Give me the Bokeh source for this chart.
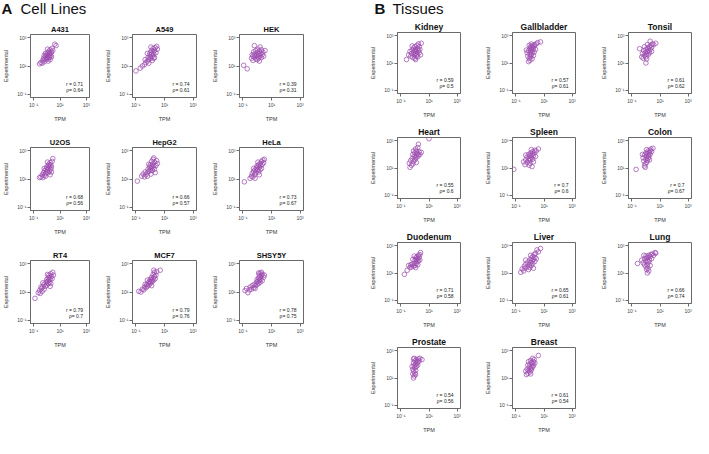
from bokeh.plotting import figure
from bokeh.layouts import row, column, Spacer
from bokeh.models import FixedTicker, CustomJSTickFormatter, Label, Range1d, ColumnDataSource
from bokeh.embed import file_html
from bokeh.resources import INLINE

# ---------------- data (log10 TPM, log10 Experimental) ----------------
x_ticks = [0.1, 10, 1000]
tick_labels = {"-1": "10⁻¹", "1": "10¹", "3": "10³"}

A431 = [(-0.55,1.15),(-0.45,1.25),(-0.35,1.2),(-0.3,1.4),(-0.2,1.3),(-0.25,1.55),(-0.15,1.5),(-0.1,1.7),(-0.05,1.45),(0.0,1.6),(0.0,1.85),(0.05,1.75),(0.1,1.55),(0.1,1.95),(0.15,1.7),(0.15,2.05),(0.2,1.85),(0.2,1.6),(0.25,2.15),(0.3,1.9),(0.3,1.75),(0.35,2.0),(0.4,2.25),(0.1,1.35),(-0.1,1.9),(0.05,2.2),(0.25,1.45),(0.45,2.1),(0.6,2.55),(0.7,2.45),(-0.2,1.75),(0.35,1.65)]
A549 = [(-1.0,0.65),(-0.7,0.85),(-0.55,1.0),(-0.4,1.1),(-0.3,1.25),(-0.35,1.45),(-0.2,1.35),(-0.15,1.6),(-0.1,1.45),(-0.05,1.8),(0.0,1.65),(0.0,1.95),(0.05,1.55),(0.1,1.85),(0.1,2.1),(0.15,1.7),(0.2,2.0),(0.2,2.25),(0.25,1.85),(0.3,2.1),(0.3,1.6),(0.35,2.3),(0.4,1.95),(0.45,2.4),(0.5,2.2),(-0.2,1.9),(0.05,2.35),(0.15,1.4),(-0.1,1.2),(0.25,1.55)]
HEK = [(-0.95,1.05),(-0.7,0.8),(-0.4,1.55),(-0.35,1.8),(-0.3,1.4),(-0.25,2.0),(-0.2,1.65),(-0.15,1.85),(-0.1,1.5),(-0.1,2.1),(-0.05,1.75),(0.0,1.95),(0.0,1.45),(0.05,1.65),(0.05,2.2),(0.1,1.85),(0.1,1.55),(0.15,2.05),(0.2,1.7),(0.2,2.35),(0.25,1.9),(0.3,1.6),(0.3,2.15),(0.35,1.8),(0.4,2.0),(0.45,1.7),(0.55,2.1),(-0.2,2.45),(0.15,1.35),(-0.3,1.7)]
U2OS = [(-0.55,1.1),(-0.45,1.15),(-0.35,1.3),(-0.3,1.1),(-0.25,1.45),(-0.2,1.25),(-0.15,1.6),(-0.1,1.4),(-0.05,1.7),(0.0,1.5),(0.0,1.85),(0.05,1.65),(0.1,1.95),(0.1,1.45),(0.15,1.75),(0.15,2.05),(0.2,1.55),(0.2,1.9),(0.25,2.15),(0.3,1.7),(0.3,2.0),(0.35,1.85),(0.4,2.25),(0.45,2.45),(-0.1,1.2),(0.05,2.2),(0.25,1.3),(-0.2,1.75),(0.35,1.5)]
HepG2 = [(-0.9,0.85),(-0.6,1.2),(-0.5,1.35),(-0.4,1.15),(-0.35,1.5),(-0.3,1.3),(-0.2,1.45),(-0.15,1.7),(-0.1,1.55),(-0.05,1.85),(0.0,1.6),(0.0,2.0),(0.05,1.75),(0.1,1.9),(0.1,2.25),(0.15,1.6),(0.15,2.05),(0.2,1.8),(0.2,2.4),(0.25,1.95),(0.3,1.7),(0.3,2.2),(0.35,1.45),(0.4,1.95),(0.45,2.3),(0.5,2.1),(-0.2,1.2),(0.05,1.35),(0.25,2.5),(-0.1,2.05)]
HeLa = [(-0.9,0.8),(-0.5,1.05),(-0.4,1.2),(-0.35,1.4),(-0.3,1.15),(-0.25,1.55),(-0.2,1.3),(-0.15,1.65),(-0.1,1.45),(-0.05,1.8),(0.0,1.6),(0.0,1.95),(0.05,1.7),(0.1,2.0),(0.1,1.5),(0.15,1.85),(0.2,2.1),(0.2,1.65),(0.25,1.95),(0.3,2.25),(0.3,1.75),(0.35,2.05),(0.4,2.35),(0.45,2.15),(0.5,2.4),(-0.15,1.05),(0.05,2.2),(0.15,1.3),(-0.25,1.75)]
RT4 = [(-0.9,0.55),(-0.65,0.95),(-0.55,1.1),(-0.5,0.9),(-0.4,1.25),(-0.35,1.05),(-0.3,1.4),(-0.2,1.2),(-0.2,1.55),(-0.1,1.4),(-0.05,1.7),(0.0,1.5),(0.0,1.9),(0.05,1.75),(0.1,2.0),(0.1,1.6),(0.15,1.85),(0.15,2.2),(0.2,1.7),(0.2,2.05),(0.25,1.9),(0.3,2.3),(0.3,1.6),(0.35,2.1),(0.4,1.95),(0.45,2.4),(0.5,2.2),(-0.3,1.65),(0.05,2.25),(0.25,1.4),(-0.45,1.35)]
MCF7 = [(-0.8,1.05),(-0.65,1.0),(-0.55,1.2),(-0.45,1.15),(-0.4,1.35),(-0.3,1.3),(-0.25,1.5),(-0.2,1.4),(-0.15,1.65),(-0.1,1.5),(-0.05,1.75),(0.0,1.6),(0.0,1.9),(0.05,1.7),(0.1,1.85),(0.1,2.05),(0.15,1.75),(0.2,2.0),(0.2,2.25),(0.25,1.85),(0.3,2.1),(0.3,2.4),(0.35,1.95),(0.4,2.2),(0.45,2.45),(0.7,2.55),(-0.2,1.85),(0.1,1.45),(0.25,2.55),(-0.35,1.55)]
SHSY5Y = [(-0.85,1.1),(-0.75,1.25),(-0.65,0.95),(-0.55,1.15),(-0.5,1.35),(-0.4,1.2),(-0.35,1.45),(-0.25,1.3),(-0.2,1.55),(-0.1,1.45),(-0.05,1.7),(0.0,1.55),(0.0,1.9),(0.05,1.75),(0.1,2.0),(0.1,1.6),(0.15,1.85),(0.15,2.2),(0.2,1.7),(0.2,2.05),(0.2,2.35),(0.25,1.9),(0.3,2.15),(0.3,2.4),(0.35,1.8),(0.35,2.25),(0.45,2.05),(0.5,2.2),(0.1,2.35),(-0.15,1.25)]

Kidney = [(-0.6,1.25),(-0.45,1.6),(-0.35,1.85),(-0.3,1.5),(-0.25,1.7),(-0.2,1.95),(-0.15,1.4),(-0.1,1.8),(-0.1,2.1),(-0.05,1.6),(0.0,1.9),(0.0,1.35),(0.0,2.2),(0.05,1.7),(0.05,2.0),(0.1,1.5),(0.1,1.85),(0.15,2.3),(0.15,1.65),(0.2,2.05),(0.2,1.45),(0.25,1.9),(0.3,2.2),(0.3,1.75),(0.35,2.0),(0.45,2.45),(0.4,1.6),(-0.2,2.25),(0.05,1.25),(0.25,2.4)]
Gallbladder = [(-0.1,1.1),(0.0,1.2),(-0.05,1.35),(0.05,1.45),(-0.15,1.5),(0.1,1.6),(0.0,1.65),(-0.2,1.75),(0.15,1.75),(0.05,1.85),(-0.1,1.9),(0.2,1.95),(0.1,2.0),(0.0,2.05),(0.25,2.1),(0.15,2.15),(0.05,2.2),(0.3,2.25),(0.2,2.3),(0.35,2.35),(0.1,2.4),(0.45,2.4),(0.3,1.8),(0.25,1.55),(-0.05,2.3),(0.55,2.5),(0.75,2.55),(0.4,2.0),(-0.25,1.95),(0.15,1.3)]
Tonsil = [(0.0,1.0),(-0.3,1.45),(-0.2,1.35),(-0.1,1.55),(-0.25,1.7),(-0.05,1.75),(0.0,1.45),(0.05,1.65),(-0.15,1.9),(0.1,1.85),(0.0,2.0),(0.15,1.6),(0.15,2.1),(0.2,1.9),(0.25,2.2),(0.3,2.0),(0.3,2.6),(0.35,2.3),(0.4,2.15),(0.45,2.4),(0.55,2.35),(0.7,2.45),(-0.45,2.05),(0.1,2.35),(0.25,1.75),(-0.1,2.2),(0.05,1.3),(0.4,1.85)]
Heart = [(-0.35,1.05),(-0.25,1.2),(-0.4,1.35),(-0.15,1.3),(-0.3,1.55),(-0.1,1.5),(-0.2,1.7),(0.0,1.6),(-0.05,1.85),(0.05,1.75),(0.1,1.95),(-0.15,2.0),(0.15,1.8),(0.0,2.1),(0.2,2.05),(0.1,2.25),(0.25,1.9),(0.3,2.2),(0.05,2.4),(0.2,2.5),(0.25,2.75),(0.45,2.15),(0.1,1.4),(-0.1,2.25),(1.0,3.15),(0.35,2.0)]
Spleen = [(-1.15,0.9),(-0.45,1.45),(-0.35,1.25),(-0.3,1.6),(-0.2,1.4),(-0.2,1.8),(-0.1,1.55),(-0.1,2.0),(-0.05,1.7),(0.0,1.35),(0.0,1.9),(0.05,2.1),(0.05,1.6),(0.1,1.8),(0.15,2.0),(0.15,1.1),(0.2,1.65),(0.2,2.2),(0.25,1.9),(0.3,2.1),(0.35,2.3),(0.4,1.85),(0.45,2.25),(0.6,2.4),(-0.05,1.2),(0.1,2.35),(-0.3,1.95),(0.25,1.45)]
Colon = [(-0.7,0.9),(-0.1,1.15),(-0.05,1.3),(0.05,1.4),(-0.15,1.5),(0.1,1.55),(0.0,1.65),(-0.2,1.75),(0.15,1.7),(0.05,1.85),(-0.1,1.95),(0.2,1.95),(0.1,2.05),(0.0,2.1),(0.25,2.15),(0.15,2.25),(0.3,2.3),(0.35,2.4),(0.5,2.45),(0.2,1.8),(-0.25,2.0),(0.25,1.6),(0.4,2.2),(0.05,2.35),(-0.05,1.05),(0.3,2.0)]
Duodenum = [(-0.75,0.9),(-0.55,1.2),(-0.45,1.55),(-0.35,1.4),(-0.3,1.6),(-0.25,1.45),(-0.2,1.65),(-0.1,1.5),(-0.05,1.7),(0.0,1.55),(0.0,1.95),(0.05,2.1),(0.1,1.7),(0.1,2.0),(0.15,1.85),(0.15,2.2),(0.2,1.6),(0.2,2.05),(0.25,1.9),(0.25,2.3),(0.3,2.15),(0.35,1.95),(0.4,2.5),(0.35,2.35),(-0.15,2.0),(0.05,1.4),(-0.05,2.25)]
Liver = [(-0.65,1.05),(-0.55,1.3),(-0.45,1.15),(-0.4,1.5),(-0.35,1.35),(-0.3,1.65),(-0.2,1.45),(-0.15,1.8),(-0.1,1.25),(-0.05,1.6),(0.0,1.95),(0.0,1.4),(0.05,1.75),(0.1,2.1),(0.1,1.55),(0.15,1.9),(0.2,2.2),(0.2,1.7),(0.25,2.0),(0.3,2.35),(0.35,1.85),(0.35,2.15),(0.4,2.45),(0.45,2.05),(0.5,2.7),(0.6,2.55),(0.75,2.8),(-0.3,1.95),(0.05,2.3),(0.25,1.35)]
Lung = [(-0.6,1.7),(-0.3,1.95),(-0.2,1.75),(-0.1,2.05),(-0.1,1.6),(0.0,1.85),(0.0,1.45),(0.05,2.1),(0.05,1.25),(0.1,1.9),(0.1,1.0),(0.1,1.6),(0.15,2.15),(0.15,1.35),(0.2,1.8),(0.2,2.3),(0.25,1.95),(0.3,2.2),(0.3,1.55),(0.35,2.35),(0.4,2.05),(0.45,2.4),(0.55,2.3),(0.65,2.5),(0.7,2.45),(0.0,2.25),(0.2,1.15),(-0.15,2.3)]
Prostate = [(-0.1,1.0),(-0.05,1.15),(-0.15,1.3),(0.0,1.35),(-0.1,1.5),(0.05,1.55),(-0.15,1.65),(0.0,1.75),(-0.05,1.9),(0.1,1.85),(0.05,2.0),(-0.1,2.1),(0.15,2.1),(0.0,2.25),(0.2,2.2),(0.1,2.35),(-0.1,2.4),(0.25,2.4),(0.35,2.45),(0.5,2.35),(0.2,1.95),(0.05,1.25),(-0.2,1.85),(0.3,2.25),(-0.05,2.45)]
Breast = [(-0.25,1.25),(-0.15,1.35),(-0.3,1.5),(-0.1,1.55),(0.0,1.45),(-0.2,1.65),(0.05,1.7),(-0.05,1.8),(0.1,1.6),(0.15,1.85),(-0.15,1.95),(0.0,2.0),(0.2,2.05),(0.1,2.15),(0.25,2.2),(0.05,2.3),(0.3,2.35),(0.2,2.45),(0.15,1.75),(-0.1,2.2),(0.35,2.1),(0.6,2.65),(0.05,1.3),(0.25,1.9)]

cell_names = ["A431", "A549", "HEK", "U2OS", "HepG2", "HeLa", "RT4", "MCF7", "SHSY5Y"]
cell_data = [A431, A549, HEK, U2OS, HepG2, HeLa, RT4, MCF7, SHSY5Y]
cell_r = ["0.71", "0.74", "0.39", "0.68", "0.66", "0.73", "0.79", "0.79", "0.78"]
cell_rho = ["0.64", "0.61", "0.31", "0.56", "0.57", "0.67", "0.7", "0.76", "0.75"]

tissue_names = ["Kidney", "Gallbladder", "Tonsil", "Heart", "Spleen", "Colon",
                "Duodenum", "Liver", "Lung", "Prostate", "Breast"]
tissue_data = [Kidney, Gallbladder, Tonsil, Heart, Spleen, Colon, Duodenum, Liver, Lung, Prostate, Breast]
tissue_r = ["0.59", "0.57", "0.61", "0.55", "0.7", "0.7", "0.71", "0.65", "0.66", "0.54", "0.61"]
tissue_rho = ["0.5", "0.61", "0.62", "0.6", "0.6", "0.67", "0.58", "0.61", "0.74", "0.56", "0.54"]

# ---------------- styling ----------------
FONT = "Liberation Sans"
PURPLE = "#9b4aad"
GRAY = "#6a6a6a"
LO, HI = -1.24, 3.24

fmt = CustomJSTickFormatter(args=dict(m=tick_labels),
                            code="const e = Math.round(Math.log10(tick)); return m[String(e)] || '';")


def make_panel(name, pts, r, rho, left, right, top, bottom, fw, fh, tsize):
    p = figure(width=left + fw + right, height=top + fh + bottom,
               x_axis_type="log", y_axis_type="log",
               x_range=Range1d(10 ** LO, 10 ** HI), y_range=Range1d(10 ** LO, 10 ** HI),
               output_backend="svg", toolbar_location=None, title=name,
               min_border_left=left, min_border_right=right,
               min_border_top=top, min_border_bottom=bottom)
    p.title.align = "center"
    p.title.text_font = FONT
    p.title.text_font_size = tsize
    p.title.text_font_style = "bold"
    p.title.text_color = "#111111"
    p.title.standoff = 1
    p.title.offset = 0
    p.grid.visible = False
    p.outline_line_color = GRAY
    p.outline_line_width = 1
    p.background_fill_color = "white"
    p.border_fill_color = "white"
    for ax in (p.xaxis[0], p.yaxis[0]):
        ax.ticker = FixedTicker(ticks=x_ticks)
        ax.formatter = fmt
        ax.major_tick_out = 3
        ax.major_tick_in = 0
        ax.minor_tick_line_color = None
        ax.axis_line_color = GRAY
        ax.major_tick_line_color = GRAY
        ax.major_label_text_font = FONT
        ax.major_label_text_font_size = "5px"
        ax.major_label_text_color = "#444444"
        ax.major_label_standoff = 1
        ax.axis_label_text_font = FONT
        ax.axis_label_text_font_size = "5.5px"
        ax.axis_label_text_font_style = "normal"
        ax.axis_label_text_color = "#333333"
        ax.axis_label_standoff = 5
    p.xaxis.axis_label = "TPM"
    p.yaxis.axis_label = "Experimental"
    src = ColumnDataSource(dict(x=[10 ** a for a, b in pts], y=[10 ** b for a, b in pts]))
    p.scatter("x", "y", source=src, marker="circle", size=4.6, fill_color=None,
              line_color=PURPLE, line_width=0.8, line_alpha=0.9)
    p.add_layout(Label(x=10 ** 2.75, y=10 ** -0.25, text="r = " + r, text_align="right",
                       text_baseline="middle", text_font=FONT, text_font_size="5px",
                       text_color="#222222"))
    p.add_layout(Label(x=10 ** 2.75, y=10 ** -0.68, text="ρ= " + rho, text_align="right",
                       text_baseline="middle", text_font=FONT, text_font_size="5px",
                       text_color="#222222"))
    return p


def heading(width, letter, text, lx, tx):
    h = figure(width=width, height=16, output_backend="svg", toolbar_location=None,
               x_range=Range1d(0, 1), y_range=Range1d(0, 1),
               x_axis_location=None, y_axis_location=None,
               min_border=0, min_border_left=0, min_border_right=0,
               min_border_top=0, min_border_bottom=0)
    h.grid.visible = False
    h.outline_line_color = None
    h.add_layout(Label(x=lx, y=8, x_units="screen", y_units="screen", text=letter,
                       text_font=FONT, text_font_size="15px", text_font_style="bold",
                       text_baseline="middle", text_color="#111111"))
    h.add_layout(Label(x=tx, y=8, x_units="screen", y_units="screen", text=text,
                       text_font=FONT, text_font_size="15px",
                       text_baseline="middle", text_color="#111111"))
    return h


# ---------------- cell lines (A) ----------------
a_cols = [(25, 13), (30, 13), (30, 9)]
a_rows = []
for rI in range(3):
    figs = []
    for cI in range(3):
        k = rI * 3 + cI
        L, R = a_cols[cI]
        figs.append(make_panel(cell_names[k], cell_data[k], cell_r[k], cell_rho[k],
                               L, R, 18, 32, 64, 63, "7.5px"))
    a_rows.append(row(*figs, spacing=0))
left_group = column(heading(312, "A", "Cell Lines", 1, 20), *a_rows, spacing=0)

# ---------------- tissues (B) ----------------
b_cols = [(30, 22), (30, 23), (30, 2)]
b_rows = []
for rI in range(4):
    figs = []
    for cI in range(3):
        k = rI * 3 + cI
        L, R = b_cols[cI]
        if k < len(tissue_names):
            figs.append(make_panel(tissue_names[k], tissue_data[k], tissue_r[k], tissue_rho[k],
                                   L, R, 16, 28, 63, 61, "8.5px"))
        else:
            figs.append(Spacer(width=L + 63 + R, height=16 + 61 + 28))
    b_rows.append(row(*figs, spacing=0))
right_group = column(heading(326, "B", "Tissues", 7, 25), *b_rows, spacing=0)

layout = row(left_group, Spacer(width=55, height=10), right_group, spacing=0)

open("out.html", "w").write(file_html(layout, INLINE))
